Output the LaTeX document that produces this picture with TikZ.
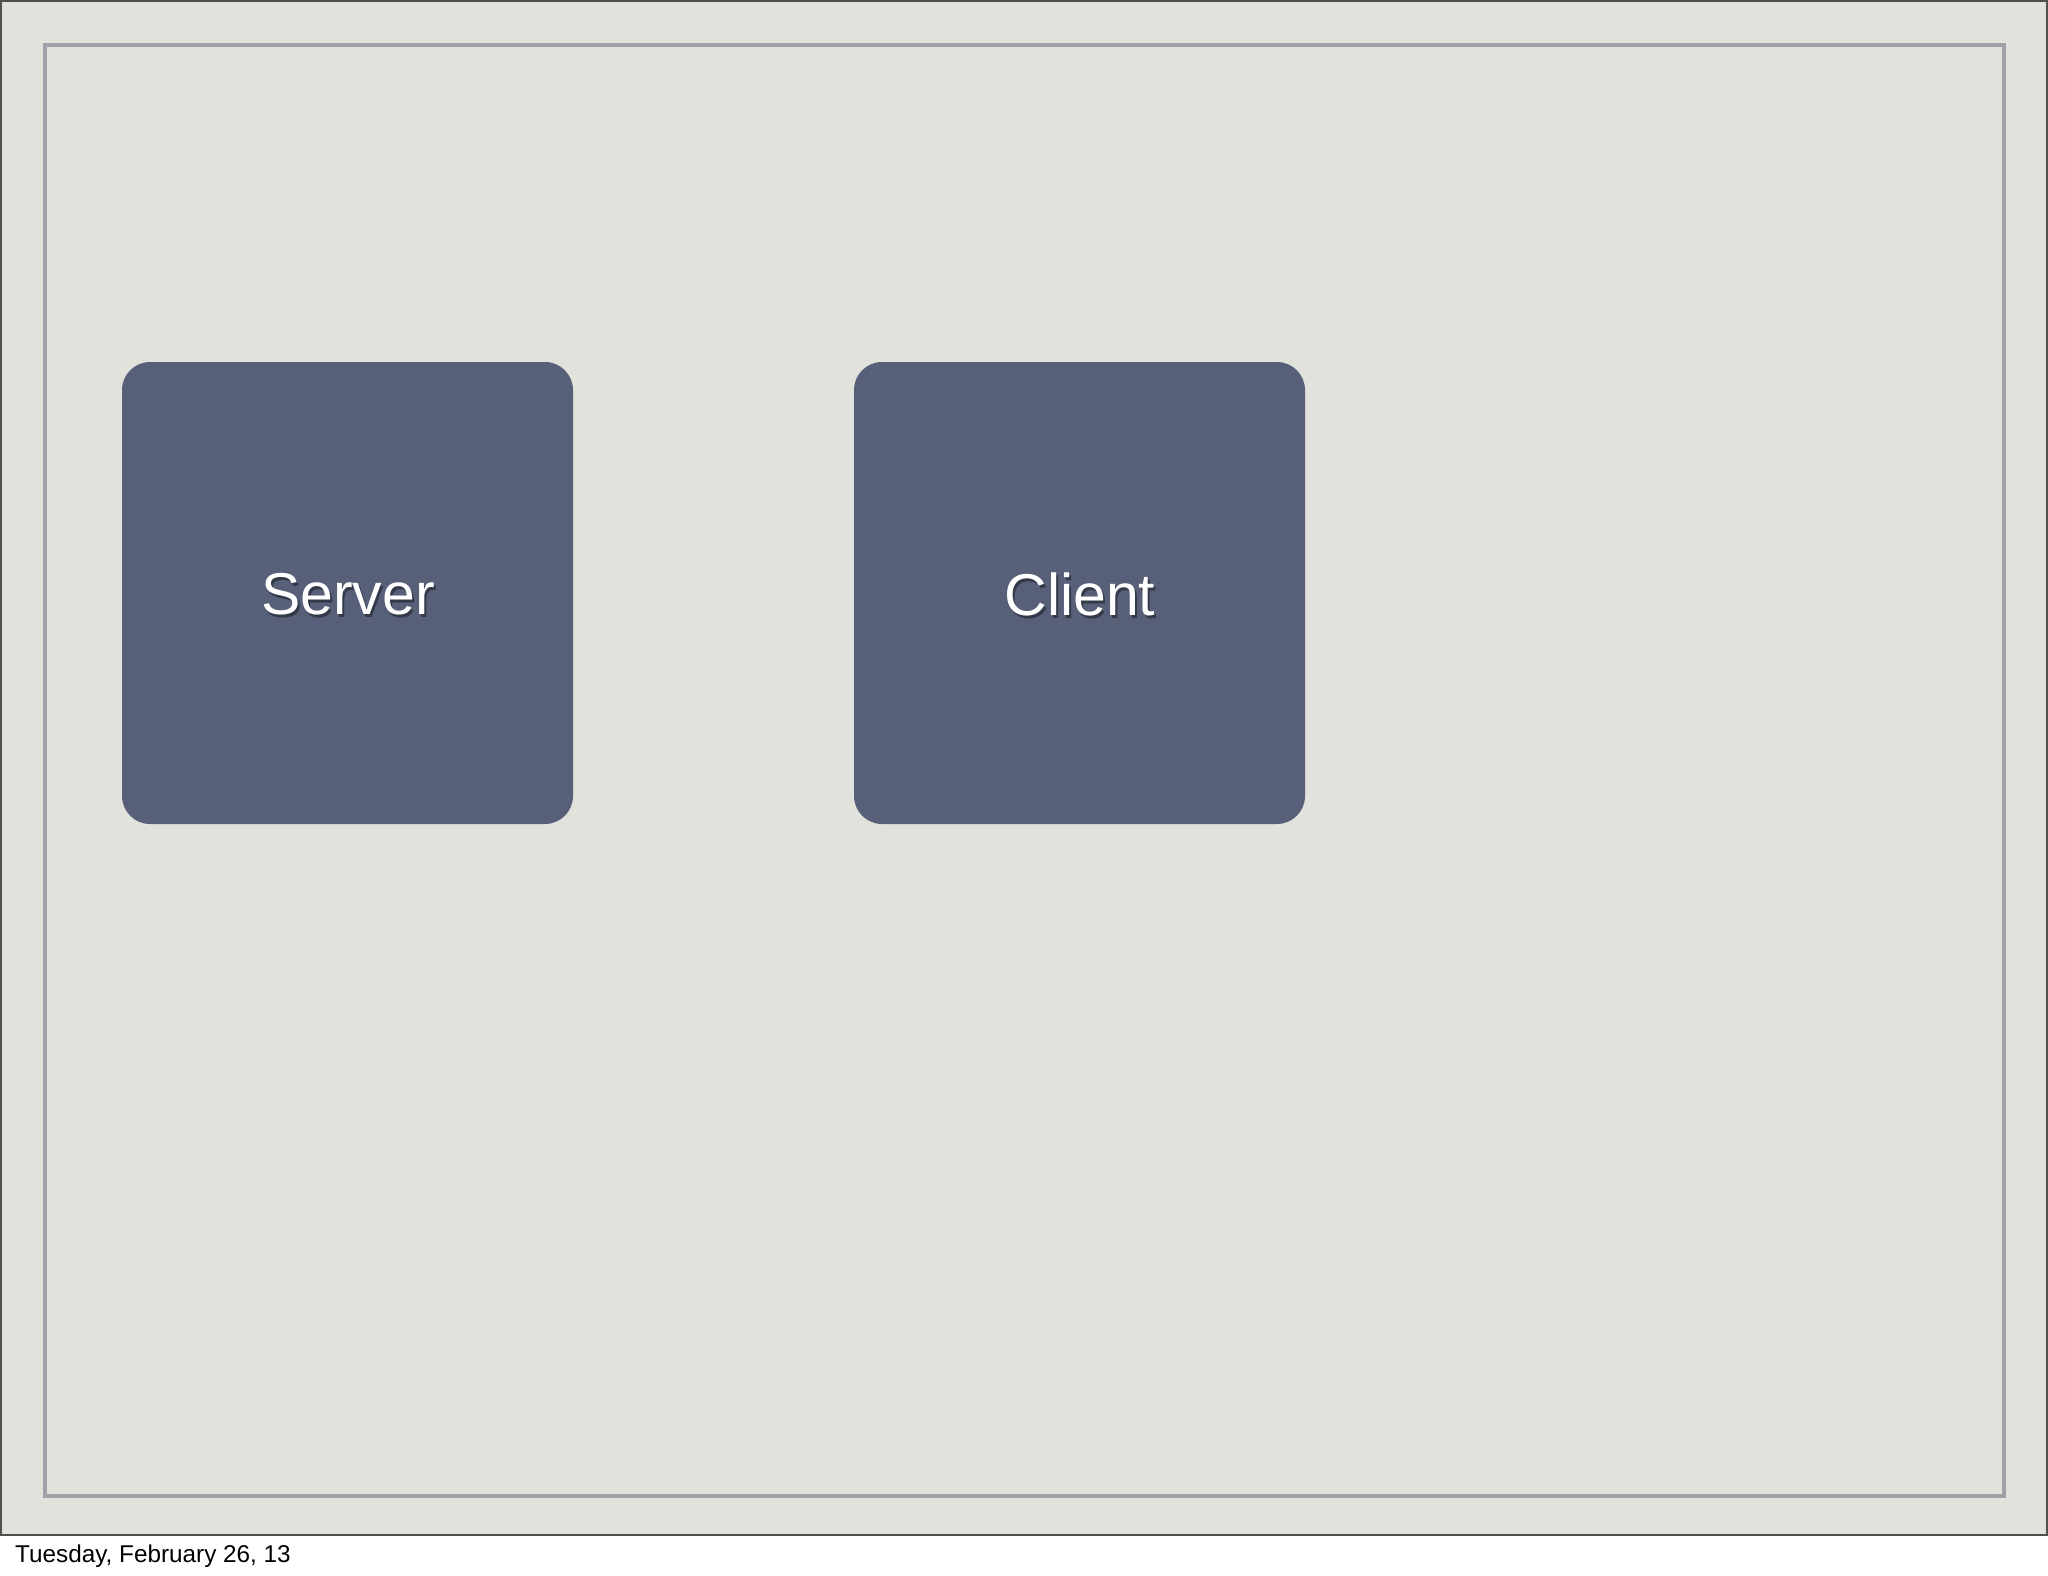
\documentclass[tikz,border=0pt]{standalone}
\usepackage{fontspec}
\setmainfont{Liberation Sans}
\definecolor{paper}{HTML}{E2E2DC}
\definecolor{frameline}{HTML}{A0A0A8}
\definecolor{slateblue}{HTML}{576078}
\definecolor{edge}{HTML}{505050}
\begin{document}
\begin{tikzpicture}[x=1pt,y=-1pt,
  box/.style={fill=slateblue, rounded corners=28pt, draw=none},
  lbl/.style={font=\fontsize{59}{61}\selectfont, text=white, inner sep=0pt},
  shadowlbl/.style={font=\fontsize{59}{61}\selectfont, text=black, opacity=0.4, inner sep=0pt}]
\useasboundingbox (0,0) rectangle (2048,1576);
\fill[white] (0,0) rectangle (2048,1576);
\fill[paper] (0,0) rectangle (2048,1536);
\draw[edge, line width=2pt] (1,1) rectangle (2047,1535);
\draw[frameline, line width=4pt] (45,45) rectangle (2004,1496);
\fill[box] (122,362) rectangle (573,824);
\fill[box] (854,362) rectangle (1305,824);
\node[shadowlbl] at (350,597) {Server};
\node[lbl] (server) at (348,594) {Server};
\node[shadowlbl] at (1082,597) {Client};
\node[lbl] (client) at (1080,594) {Client};
\node[anchor=base west, font=\fontsize{24.3}{26}\selectfont, inner sep=0pt] (date) at (15,1562) {Tuesday, February 26, 13};
\end{tikzpicture}
\end{document}
